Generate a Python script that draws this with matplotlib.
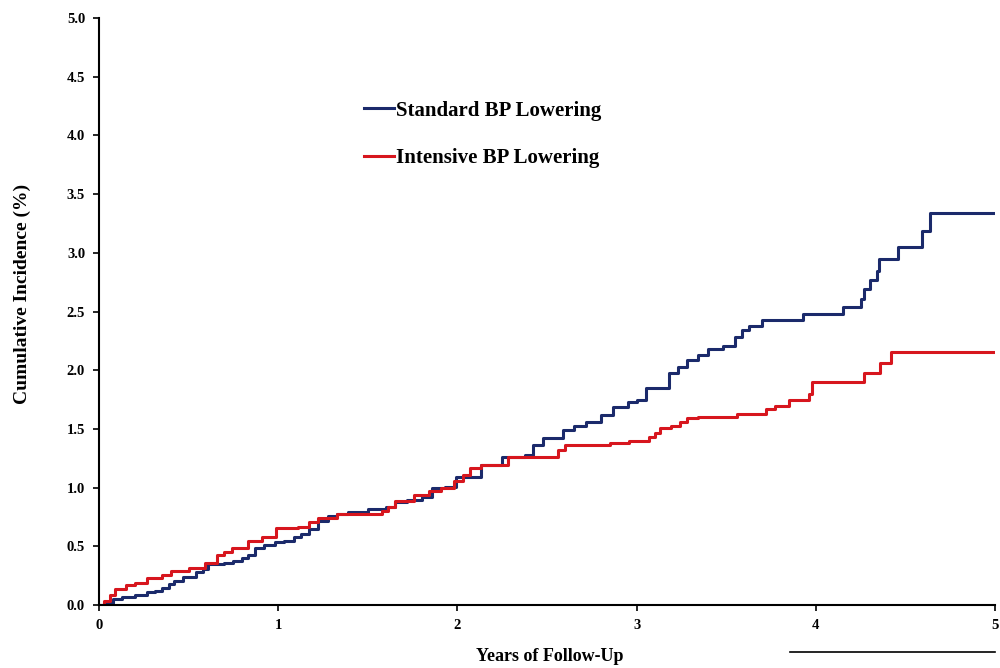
import numpy as np
import matplotlib
matplotlib.use("Agg")
import matplotlib.pyplot as plt
from matplotlib.lines import Line2D

# step times (years) and cumulative incidence (%) after each step
std_t = [0, 0.03, 0.08, 0.13, 0.20, 0.27, 0.31, 0.35, 0.39, 0.42, 0.47, 0.54, 0.58, 0.61,
         0.70, 0.75, 0.80, 0.83, 0.87, 0.92, 0.98, 1.03, 1.09, 1.13, 1.17, 1.22, 1.28,
         1.33, 1.39, 1.50, 1.60, 1.65, 1.72, 1.80, 1.86, 1.93, 1.99, 2.13, 2.25, 2.38,
         2.42, 2.48, 2.59, 2.65, 2.72, 2.80, 2.87, 2.95, 3.00, 3.05, 3.18, 3.23, 3.28,
         3.34, 3.40, 3.48, 3.55, 3.59, 3.63, 3.70, 3.93, 4.15, 4.25, 4.27, 4.30, 4.34,
         4.35, 4.46, 4.59, 4.64, 5.0]
std_v = [0, 0.02, 0.05, 0.07, 0.09, 0.11, 0.12, 0.15, 0.18, 0.21, 0.24, 0.28, 0.31, 0.35,
         0.36, 0.38, 0.40, 0.43, 0.49, 0.51, 0.54, 0.55, 0.58, 0.61, 0.65, 0.72, 0.76,
         0.78, 0.79, 0.82, 0.84, 0.88, 0.90, 0.92, 1.00, 1.01, 1.09, 1.19, 1.26, 1.28,
         1.36, 1.42, 1.49, 1.53, 1.56, 1.62, 1.69, 1.73, 1.75, 1.85, 1.98, 2.03, 2.09,
         2.13, 2.18, 2.21, 2.28, 2.34, 2.38, 2.43, 2.48, 2.54, 2.61, 2.69, 2.77, 2.85,
         2.95, 3.05, 3.19, 3.34, 3.34]

int_t = [0, 0.03, 0.06, 0.09, 0.15, 0.20, 0.27, 0.35, 0.40, 0.50, 0.59, 0.66, 0.70, 0.74,
         0.83, 0.91, 0.99, 1.11, 1.17, 1.22, 1.33, 1.58, 1.61, 1.65, 1.76, 1.84, 1.91,
         1.98, 2.03, 2.07, 2.13, 2.28, 2.52, 2.56, 2.60, 2.83, 2.85, 2.96, 3.07, 3.10,
         3.13, 3.19, 3.24, 3.28, 3.34, 3.56, 3.72, 3.77, 3.85, 3.96, 3.98, 4.27, 4.36,
         4.42, 5.0]
int_v = [0, 0.04, 0.09, 0.14, 0.17, 0.19, 0.23, 0.26, 0.29, 0.32, 0.36, 0.43, 0.45, 0.49,
         0.55, 0.58, 0.66, 0.67, 0.71, 0.74, 0.78, 0.80, 0.84, 0.89, 0.94, 0.97, 1.00,
         1.06, 1.11, 1.17, 1.19, 1.26, 1.26, 1.32, 1.36, 1.36, 1.38, 1.40, 1.43, 1.47,
         1.51, 1.53, 1.56, 1.59, 1.60, 1.63, 1.67, 1.70, 1.75, 1.80, 1.90, 1.98, 2.06,
         2.16, 2.16]

navy = "#1b2a6b"
red = "#d7161e"

plt.rcParams['font.family'] = ['Liberation Serif', 'DejaVu Serif']
plt.rcParams['font.weight'] = 'bold'

fig = plt.figure(figsize=(10, 6.68), dpi=100)
ax = fig.add_axes([0.099, 0.094, 0.896, 0.879])

ax.step(std_t, std_v, where='post', color=navy, lw=2.2, label='Standard BP Lowering')
ax.step(int_t, int_v, where='post', color=red, lw=2.2, label='Intensive BP Lowering')

ax.set_xlim(0, 5)
ax.set_ylim(0, 5)
ax.set_xticks(range(6))
ax.set_yticks(np.arange(0, 5.01, 0.5))
ax.set_yticklabels([f"{v:.1f}" for v in np.arange(0, 5.01, 0.5)])
ax.spines['top'].set_visible(False)
ax.spines['right'].set_visible(False)
for s in ('left', 'bottom'):
    ax.spines[s].set_linewidth(1.5)
ax.tick_params(direction='out', length=4, width=1.2, labelsize=10.5, pad=6)
for lab in ax.get_xticklabels() + ax.get_yticklabels():
    lab.set_fontweight('bold')

ax.set_xlabel('Years of Follow-Up', fontsize=13, fontweight='bold')
ax.xaxis.set_label_coords(0.503, -0.073)
ax.set_ylabel('Cumulative Incidence (%)', fontsize=14, fontweight='bold')
ax.yaxis.set_label_coords(-0.076, 0.53)

leg = ax.legend(loc='center left', bbox_to_anchor=(0.345, 0.799), bbox_transform=fig.transFigure,
                frameon=False, handlelength=1.45, handletextpad=0.1, labelspacing=1.3,
                prop={'family': 'Liberation Serif', 'weight': 'bold', 'size': 15})

# stray rule at the lower right of the original figure
fig.add_artist(Line2D([0.79, 0.995], [0.024, 0.024], color='black', lw=1.2))

fig.savefig("out.png", dpi=100)
